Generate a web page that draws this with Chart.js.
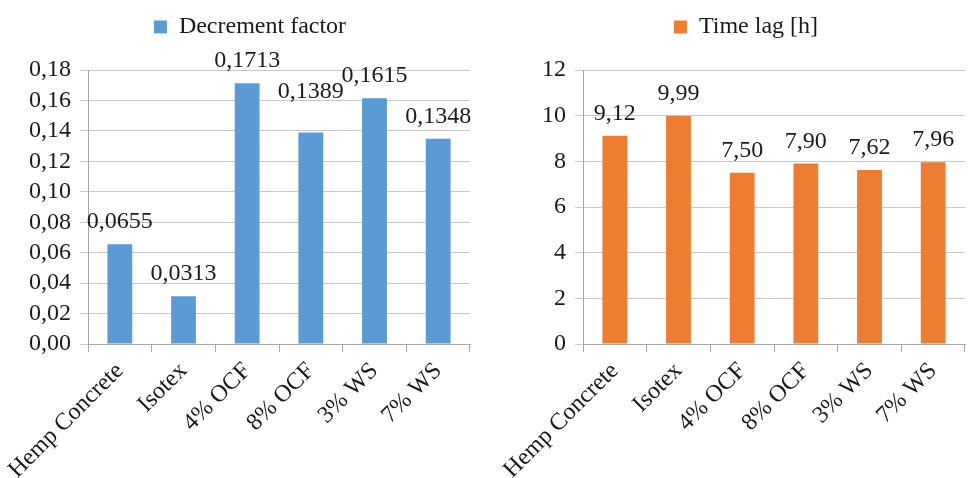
<!DOCTYPE html>
<html>
<head>
<meta charset="utf-8">
<script src="https://cdn.jsdelivr.net/npm/chart.js@4.4.1/dist/chart.umd.min.js"></script>
<style>
  html, body { margin: 0; padding: 0; background: #fff; }
  #wrap { position: relative; width: 973px; height: 478px; }
  .box { position: absolute; top: 0; height: 478px; }
  #leftBox { left: 0; width: 480px; }
  #rightBox { left: 480px; width: 493px; }
</style>
</head>
<body>
<div id="wrap">
  <div class="box" id="leftBox"><canvas id="decrementChart"></canvas></div>
  <div class="box" id="rightBox"><canvas id="timeLagChart"></canvas></div>
</div>
<script>
// Dữ liệu
const categories = ['Hemp Concrete', 'Isotex', '4% OCF', '8% OCF', '3% WS', '7% WS'];
const decrementValues = [0.0655, 0.0313, 0.1713, 0.1389, 0.1615, 0.1348];
const timeLagValues = [9.12, 9.99, 7.50, 7.90, 7.62, 7.96];
const decrementTicks = { min: 0, max: 0.18, step: 0.02 };
const timeLagTicks = { min: 0, max: 12, step: 2 };

const FONT = "'Liberation Serif', 'Times New Roman', serif";
const TEXT = '#1a1a1a';
const GRID = '#c8c8c8';
const AXIS = '#a6a6a6';

function comma(v, digits) {
    return Number(v).toFixed(digits).replace('.', ',');
}

// Nhãn giá trị trên cột
function valueLabels(digits, lift) {
    return {
        id: 'valueLabels',
        afterDatasetsDraw(chart) {
            const ctx = chart.ctx;
            const meta = chart.getDatasetMeta(0);
            const data = chart.data.datasets[0].data;
            ctx.save();
            ctx.font = '24px ' + FONT;
            ctx.fillStyle = TEXT;
            ctx.textAlign = 'center';
            ctx.textBaseline = 'alphabetic';
            meta.data.forEach(function(bar, i) {
                const extra = lift[i] || 0;
                ctx.fillText(comma(data[i], digits), bar.x, bar.y - 16 - extra);
            });
            ctx.restore();
        }
    };
}

// Khoảng cách giữa chú giải và vùng vẽ
function legendGap(gap) {
    return {
        id: 'legendGap',
        afterInit(chart) {
            const fit = chart.legend.fit;
            chart.legend.fit = function() {
                fit.bind(chart.legend)();
                this.height += gap;
            };
        }
    };
}

function makeChart(id, label, values, color, ticks, tickDigits, valueDigits, yWidth, pad, gap, lift) {
    const ctx = document.getElementById(id);
    return new Chart(ctx, {
        type: 'bar',
        data: {
            labels: categories,
            datasets: [{
                label: label,
                data: values,
                backgroundColor: color,
                barPercentage: 0.78,
                categoryPercentage: 0.5
            }]
        },
        options: {
            responsive: true,
            maintainAspectRatio: false,
            animation: false,
            layout: { padding: pad },
            plugins: {
                tooltip: { enabled: false },
                legend: {
                    position: 'top',
                    labels: {
                        color: TEXT,
                        font: { family: FONT, size: 24 },
                        boxWidth: 13,
                        boxHeight: 13,
                        padding: 6
                    }
                }
            },
            scales: {
                x: {
                    afterFit: function(scale) { scale.height = 134; },
                    grid: { display: true, drawOnChartArea: false, drawTicks: true, tickLength: 8, color: AXIS, offset: true },
                    border: { color: AXIS },
                    ticks: {
                        color: TEXT,
                        font: { family: FONT, size: 24 },
                        minRotation: 45,
                        maxRotation: 45,
                        autoSkip: false,
                        padding: 5
                    }
                },
                y: {
                    min: ticks.min,
                    max: ticks.max,
                    afterFit: function(scale) { scale.width = yWidth; },
                    grid: { color: GRID, tickLength: 8 },
                    border: { color: AXIS },
                    ticks: {
                        stepSize: ticks.step,
                        autoSkip: false,
                        color: TEXT,
                        font: { family: FONT, size: 24 },
                        padding: 9,
                        callback: function(v) { return comma(v, tickDigits); }
                    }
                }
            }
        },
        plugins: [valueLabels(valueDigits, lift), legendGap(gap)]
    });
}

document.addEventListener('DOMContentLoaded', function() {
    makeChart('decrementChart', 'Decrement factor', decrementValues, '#5b9bd5',
        decrementTicks, 2, 4, 58, { left: 30, right: 10, top: 9, bottom: 0 }, 21, { 3: 19 });
    makeChart('timeLagChart', 'Time lag [h]', timeLagValues, '#ed7d31',
        timeLagTicks, 0, 2, 56, { left: 47, right: 8, top: 9, bottom: 0 }, 21, {});
});
</script>
</body>
</html>
